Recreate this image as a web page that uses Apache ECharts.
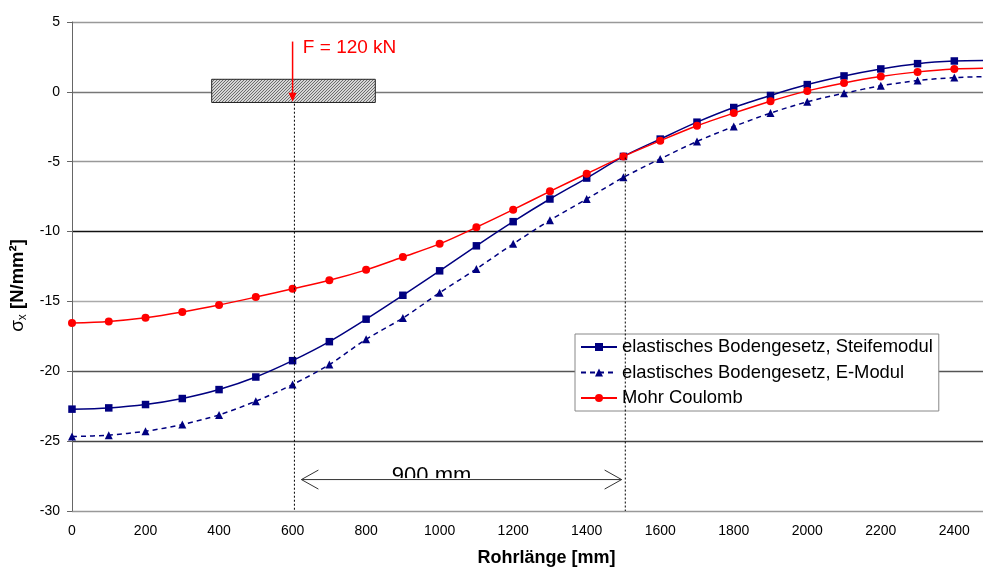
<!DOCTYPE html>
<html><head><meta charset="utf-8">
<script src="https://cdn.jsdelivr.net/npm/echarts@6/dist/echarts.min.js"></script>
<style>html,body{margin:0;padding:0;background:#fff}#c{width:983px;height:570px}</style>
</head><body><div id="c"></div><script>
// ---- data ----
const xValues = [0,100,200,300,400,500,600,700,800,900,1000,1100,1200,1300,1400,1500,1600,1700,1800,1900,2000,2100,2200,2300,2400,2500];
const steifemodul = [-22.71,-22.62,-22.38,-21.95,-21.31,-20.41,-19.24,-17.88,-16.27,-14.56,-12.81,-11.02,-9.29,-7.67,-6.17,-4.62,-3.38,-2.17,-1.12,-0.26,0.52,1.14,1.64,2.02,2.21,2.25];
const eModul = [-24.67,-24.57,-24.29,-23.81,-23.12,-22.14,-20.95,-19.52,-17.71,-16.19,-14.38,-12.67,-10.88,-9.19,-7.67,-6.12,-4.80,-3.55,-2.48,-1.52,-0.71,-0.10,0.43,0.81,1.02,1.10];
const mohrCoulomb = [-16.55,-16.43,-16.17,-15.76,-15.26,-14.69,-14.10,-13.49,-12.74,-11.82,-10.88,-9.69,-8.43,-7.12,-5.86,-4.62,-3.50,-2.43,-1.52,-0.67,0.07,0.64,1.10,1.43,1.64,1.70];
const seriesNames = ['elastisches Bodengesetz, Steifemodul','elastisches Bodengesetz, E-Modul','Mohr Coulomb'];
const xTickStep = 200;
const yTickStep = 5;
const xTitle = 'Rohrlänge [mm]';
// annotations (data units)
const loadBlock = [380, 825, -0.76, 0.9];
const forceArrow = [600, 3.6, -0.7];
const forceLabel = 'F = 120 kN';
const forceLabelPos = [628, 3.14];
const dimLines = [[605, -0.85, -30], [1505, -4.7, -30]];
const dimArrow = [624, 1495, -27.75];
const dimLabel = '900 mm';
const dimLabelX = 978;

const FONT = '"Liberation Sans", Arial, sans-serif';
const pair = arr => xValues.map((x,i)=>[x, arr[i]]);

const chart = echarts.init(document.getElementById('c'), null, {renderer:'canvas'});
chart.setOption({
  animation:false,
  backgroundColor:'#fff',
  textStyle:{fontFamily:FONT},
  grid:{left:72, right:0, top:22, bottom:59, outerBoundsMode:'none', containLabel:false},
  legend:{
    orient:'vertical', left:575, top:334, padding:[3,6,3,5],
    backgroundColor:'#fff', borderColor:'#888', borderWidth:1, borderRadius:0,
    itemWidth:36, itemHeight:10, itemGap:5.5,
    textStyle:{fontSize:18.4, lineHeight:20, color:'#000', fontFamily:FONT},
    data:seriesNames
  },
  xAxis:{
    type:'value', min:0, max:2478, interval:xTickStep,
    axisLine:{show:false}, axisTick:{show:false}, splitLine:{show:false},
    axisLabel:{fontSize:14, color:'#000', margin:13, fontFamily:FONT,
      formatter:v => (v % xTickStep === 0 ? String(v) : '')},
    name:xTitle, nameLocation:'middle', nameGap:38,
    nameTextStyle:{fontSize:18, fontWeight:'bold', color:'#000', fontFamily:FONT, padding:[0,0,0,38]}
  },
  yAxis:{
    type:'value', min:-30, max:5, interval:yTickStep,
    axisLine:{show:true, onZero:false, lineStyle:{color:'#666', width:1}},
    axisTick:{show:true, inside:false, length:5, lineStyle:{color:'#666'}},
    splitLine:{show:true, lineStyle:{width:1.3, color:['#999','#444','#555','#aaa','#111','#999','#777','#999']}},
    axisLabel:{fontSize:14, color:'#000', margin:12, fontFamily:FONT},
    name:'{s|σ}{x|x} [N/mm²]', nameLocation:'middle', nameGap:40, nameRotate:90,
    nameTextStyle:{fontSize:18.5, fontWeight:'bold', color:'#000', fontFamily:FONT, padding:[0,38,0,0], lineHeight:22,
      rich:{s:{fontSize:19, fontWeight:'normal', fontFamily:FONT, color:'#000', lineHeight:22},
            x:{fontSize:12, fontWeight:'normal', fontFamily:FONT, color:'#000', verticalAlign:'bottom', lineHeight:22, padding:[6,0,0,0]}}}
  },
  series:[
    {name:seriesNames[0], type:'line', data:pair(steifemodul), smooth:0.3, symbol:'rect', symbolSize:7.5, clip:true,
     lineStyle:{color:'#000080', width:1.5}, itemStyle:{color:'#000080'}},
    {name:seriesNames[1], type:'line', data:pair(eModul), smooth:0.3, symbol:'triangle', symbolSize:8, clip:true,
     lineStyle:{color:'#000080', width:1.5, type:[5,4]}, itemStyle:{color:'#000080'}},
    {name:seriesNames[2], type:'line', data:pair(mohrCoulomb), smooth:0.3, symbol:'circle', symbolSize:8, clip:true,
     lineStyle:{color:'#ff0000', width:1.5}, itemStyle:{color:'#ff0000'}}
  ]
});

// ---- annotations placed through the chart's own coordinate conversion ----
const P = (x,y) => chart.convertToPixel({gridIndex:0}, [x,y]);
const pat = document.createElement('canvas'); pat.width = 3; pat.height = 3;
const pc = pat.getContext('2d'); const img = pc.createImageData(3,3);
for (let yy=0; yy<3; yy++) for (let xx=0; xx<3; xx++) {
  const k = (yy*3+xx)*4; const dark = ((xx+yy)%3===2);
  const v = dark ? 110 : 215; img.data[k]=v; img.data[k+1]=v; img.data[k+2]=v; img.data[k+3]=255;
}
pc.putImageData(img,0,0);

const els = [];
const b0 = P(loadBlock[0], loadBlock[3]), b1 = P(loadBlock[1], loadBlock[2]);
els.push({type:'rect', z:100, shape:{x:b0[0], y:b0[1], width:b1[0]-b0[0], height:b1[1]-b0[1]},
  style:{fill:{image:pat, repeat:'repeat'}, stroke:'#222', lineWidth:1}});
dimLines.forEach(d => {
  const a = P(d[0], d[1]), b = P(d[0], d[2]);
  els.push({type:'line', z:101, shape:{x1:a[0], y1:a[1], x2:b[0], y2:b[1]}, style:{stroke:'#000', lineWidth:1, lineDash:[2,2]}});
});
const fa = P(forceArrow[0], forceArrow[1]), fb = P(forceArrow[0], forceArrow[2]);
els.push({type:'line', z:102, shape:{x1:fa[0], y1:fa[1], x2:fb[0], y2:fb[1]-7}, style:{stroke:'#ff0000', lineWidth:1.5}});
els.push({type:'polygon', z:102, shape:{points:[[fb[0]-4, fb[1]-9],[fb[0]+4, fb[1]-9],[fb[0], fb[1]]]}, style:{fill:'#ff0000'}});
const fl = P(forceLabelPos[0], forceLabelPos[1]);
els.push({type:'text', z:102, x:fl[0], y:fl[1], style:{text:forceLabel, fill:'#ff0000', font:'19px '+FONT, verticalAlign:'middle', align:'left'}});
const da = P(dimArrow[0], dimArrow[2]), db = P(dimArrow[1], dimArrow[2]);
const dl = P(dimLabelX, dimArrow[2]);
els.push({type:'text', z:103, x:dl[0], y:da[1]-15, style:{text:dimLabel, fill:'#000', font:'22px '+FONT, verticalAlign:'top', align:'center'}});
els.push({type:'rect', z:104, shape:{x:dl[0]-60, y:da[1]-1.5, width:120, height:14}, style:{fill:'#fff'}});
els.push({type:'line', z:105, shape:{x1:da[0], y1:da[1], x2:db[0], y2:db[1]}, style:{stroke:'#333', lineWidth:1}});
els.push({type:'polyline', z:105, shape:{points:[[da[0]+17, da[1]-9.5],[da[0], da[1]],[da[0]+17, da[1]+9.5]]}, style:{stroke:'#333', lineWidth:1, fill:null}});
els.push({type:'polyline', z:105, shape:{points:[[db[0]-17, db[1]-9.5],[db[0], db[1]],[db[0]-17, db[1]+9.5]]}, style:{stroke:'#333', lineWidth:1, fill:null}});
chart.setOption({graphic:{elements:els}});
</script></body></html>
